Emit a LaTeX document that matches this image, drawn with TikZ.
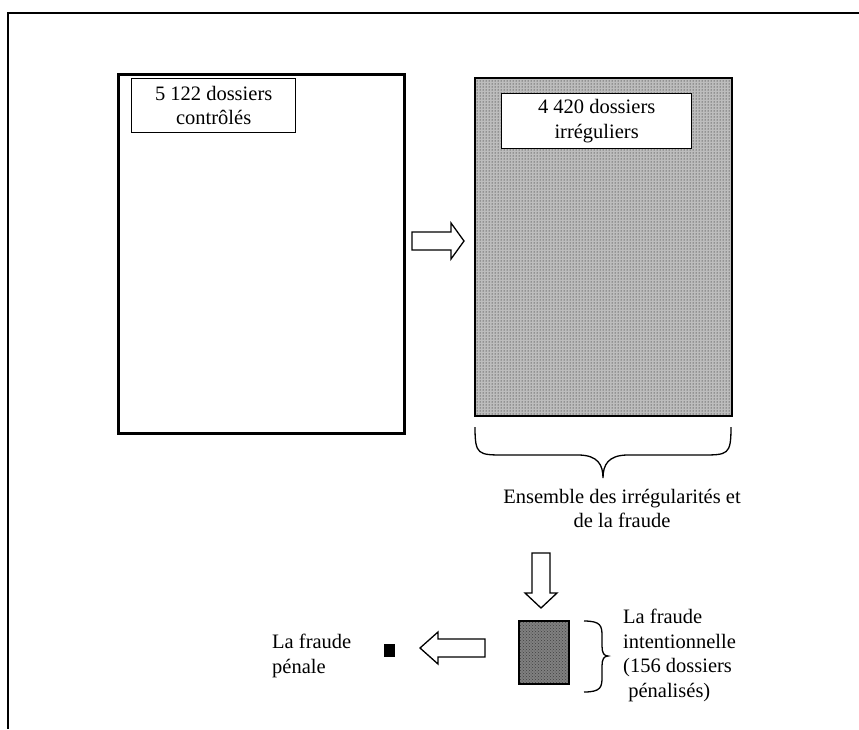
\documentclass[tikz,border=0pt]{standalone}
\usepackage{fontspec}
\setmainfont{Liberation Serif}
\usetikzlibrary{patterns}
\begin{document}
\begin{tikzpicture}[x=1pt,y=-1pt,
  txtfont/.style={font=\fontsize{20.5}{24.5}\selectfont},
  labelbox/.style={draw, line width=1.3pt, fill=white, inner sep=0pt, align=center, txtfont, anchor=north west},
  freetext/.style={inner sep=0pt, txtfont},
  blockarrow/.style={draw, line width=1.3pt, fill=white, line join=miter},
  bracestyle/.style={draw, line width=1.3pt},
  bigbox/.style={draw, inner sep=0pt, anchor=north west}
]
\useasboundingbox (0,0) rectangle (859,729);
% page frame
\draw[line width=2.7pt] (859,13) -- (8,13) -- (8,729);
% left box
\node[bigbox, line width=3.4pt, minimum width=286pt, minimum height=359pt] (ctl) at (117,73) {};
\node[labelbox, minimum width=164pt, minimum height=54pt] (ctllbl) at (131,78) {5 122 dossiers\\contrôlés};
% right box
\node[bigbox, line width=2pt, preaction={fill=black!26}, pattern=dots, pattern color=black, minimum width=257pt, minimum height=338pt] (irr) at (474,77) {};
\node[labelbox, minimum width=190pt, minimum height=55pt] (irrlbl) at (501,93) {4 420 dossiers\\irréguliers};
% arrow between boxes
\draw[blockarrow] (412,232) -- (451,232) -- (451,223) -- (464,241) -- (451,259) -- (451,250) -- (412,250) -- cycle;
% brace under right box
\draw[bracestyle] (475,427) .. controls (475,455) and (478,455) .. (505,455) -- (578,455)
  .. controls (598,455) and (603,465) .. (603,478)
  .. controls (603,465) and (608,455) .. (628,455) -- (701,455)
  .. controls (728,455) and (731,455) .. (731,427);
\node[freetext, align=center, anchor=north] (ens) at (622,489) {Ensemble des irrégularités et\\de la fraude};
% down arrow
\draw[blockarrow] (532,553) -- (550,553) -- (550,593) -- (557,593) -- (541,608) -- (525,593) -- (532,593) -- cycle;
% small grey box
\node[bigbox, line width=2pt, preaction={fill=black!50}, pattern=crosshatch dots, pattern color=black!75, minimum width=50pt, minimum height=63pt] (intent) at (518,620) {};
% small brace
\draw[bracestyle] (584,621) .. controls (601,621) and (602,626) .. (602,636) -- (602,646)
  .. controls (602,653) and (604,656) .. (608,656)
  .. controls (604,656) and (602,659) .. (602,666) -- (602,677)
  .. controls (602,687) and (601,692) .. (584,692);
\node[freetext, align=left, anchor=north west] (inttxt) at (623,609) {La fraude\\intentionnelle\\(156 dossiers\\\ pénalisés)};
% left arrow
\draw[blockarrow] (420,648) -- (438,632) -- (438,639) -- (485,639) -- (485,657) -- (438,657) -- (438,664) -- cycle;
% black square
\node[bigbox, fill=black, line width=0pt, minimum width=10pt, minimum height=12pt] (pen) at (384,644) {};
\node[freetext, align=left, anchor=north west] (pentxt) at (272,634) {La fraude\\pénale};
\end{tikzpicture}
\end{document}
